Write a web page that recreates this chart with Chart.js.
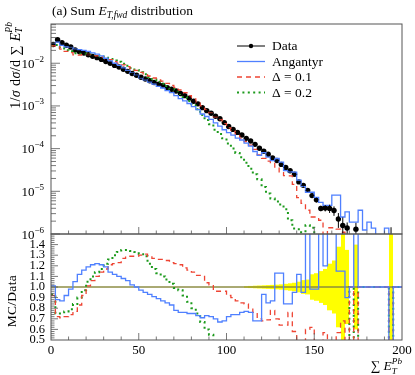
<!DOCTYPE html>
<html>
<head>
<meta charset="utf-8">
<script src="https://cdn.jsdelivr.net/npm/chart.js@4.4.0/dist/chart.umd.min.js"></script>
<style>
  body { margin: 0; background: #fff; }
  #wrap { position: relative; width: 415px; height: 375px; font-family: 'Liberation Serif', 'DejaVu Serif', serif; color: #000; }
  canvas { position: absolute; left: 0; top: 0; }
  .lbl { position: absolute; white-space: nowrap; line-height: 1; }
  .vert { writing-mode: vertical-rl; transform: rotate(180deg); }
  .sub { font-size: 70%; vertical-align: -0.3em; }
  .ss { display: inline-block; font-size: 68%; line-height: 1.05; vertical-align: -0.35em; font-style: italic; }
  .ss span { display: block; }
</style>
</head>
<body>
<div id="wrap">
  <canvas id="chart" width="415" height="375"></canvas>
  <div class="lbl" style="left:52px; top:4px; font-size:13.5px">(a) Sum <i>E</i><span class="sub"><i>T,fwd</i></span> distribution</div>
  <div class="lbl vert" style="left:4px; top:21px; font-size:14px; letter-spacing:0.4px">1/<i>σ</i> d<i>σ</i>/d ∑ <i>E</i><span class="ss"><span>Pb</span><span>T</span></span></div>
  <div style="position:absolute; left:5px; top:250px; height:102px; display:flex; align-items:center">
    <div class="vert" style="font-size:13.5px; line-height:1; white-space:nowrap; letter-spacing:0.3px">MC/Data</div>
  </div>
  <div class="lbl" style="right:13px; top:357px; font-size:13.5px">∑ <i>E</i><span class="ss"><span>Pb</span><span>T</span></span></div>
</div>
<script>
// bin edges of the histogram (GeV)
const binEdges = [0, 2.5, 5, 7.5, 10, 12.5, 15, 17.5, 20, 22.5, 25, 27.5, 30, 32.5, 35, 37.5, 40, 42.5, 45, 47.5,
  50, 52.5, 55, 57.5, 60, 62.5, 65, 67.5, 70, 72.5, 75, 77.5, 80, 82.5, 85, 87.5, 90, 92.5, 95, 97.5,
  100, 102.5, 105, 107.5, 110, 112.5, 115, 117.5, 120, 122.5, 125, 127.5, 130, 132.5, 135, 137.5, 140, 142.5, 145, 147.5,
  150, 152.5, 155, 157.5, 160, 162.5, 165, 167.5, 170, 172.5, 175, 177.5, 180, 182.5, 185, 187.5, 190, 192.5, 195, 197.5, 200];

// measured distribution
const dataVals = [2.75e-2, 3.55e-2, 3.02e-2, 2.63e-2, 2.40e-2, 2.04e-2, 1.86e-2, 1.74e-2, 1.58e-2, 1.45e-2,
  1.35e-2, 1.23e-2, 1.10e-2, 1.00e-2, 8.91e-3, 8.13e-3, 7.24e-3, 6.46e-3, 5.75e-3, 5.25e-3,
  4.68e-3, 4.27e-3, 3.89e-3, 3.55e-3, 3.24e-3, 3.02e-3, 2.69e-3, 2.45e-3, 2.24e-3, 1.95e-3,
  1.74e-3, 1.51e-3, 1.29e-3, 1.12e-3, 9.12e-4, 7.76e-4, 6.76e-4, 5.75e-4, 5.01e-4, 4.07e-4,
  3.31e-4, 2.82e-4, 2.40e-4, 2.09e-4, 1.74e-4, 1.51e-4, 1.26e-4, 1.02e-4, 8.71e-5, 7.41e-5,
  6.03e-5, 5.25e-5, 4.27e-5, 3.63e-5, 3.02e-5, 2.51e-5, 1.66e-5, 1.38e-5, 1.05e-5, 7.94e-6,
  6.31e-6, 3.98e-6, 4.07e-6, 3.98e-6, 3.55e-6, 2.24e-6, 1.58e-6, 1.38e-6, null, 1.30e-6,
  null, null, null, null, null, null, null, 8.0e-7, null, null];
// relative data uncertainty (yellow band)
const dataErr = [0.004, 0.004, 0.004, 0.004, 0.004, 0.004, 0.004, 0.004, 0.004, 0.004,
  0.004, 0.004, 0.004, 0.004, 0.004, 0.004, 0.004, 0.004, 0.004, 0.004,
  0.004, 0.004, 0.004, 0.004, 0.004, 0.004, 0.004, 0.004, 0.004, 0.004,
  0.004, 0.004, 0.004, 0.004, 0.004, 0.004, 0.004, 0.004, 0.004, 0.004,
  0.004, 0.004, 0.004, 0.004, 0.008, 0.01, 0.012, 0.014, 0.016, 0.018,
  0.02, 0.022, 0.025, 0.03, 0.035, 0.04, 0.05, 0.065, 0.07, 0.12,
  0.13, 0.15, 0.17, 0.22, 0.25, 0.38, 0.55, 0.35, 0, 0.4,
  0, 0, 0, 0, 0, 0, 0, 0.8, 0, 0];

// Angantyr
const angVals = [2.78e-2, 3.12e-2, 2.63e-2, 2.42e-2, 2.35e-2, 2.14e-2, 2.08e-2, 2.01e-2, 1.89e-2, 1.75e-2,
  1.64e-2, 1.49e-2, 1.31e-2, 1.14e-2, 9.98e-3, 8.93e-3, 7.82e-3, 6.84e-3, 5.87e-3, 5.25e-3,
  4.54e-3, 4.06e-3, 3.61e-3, 3.23e-3, 2.88e-3, 2.63e-3, 2.29e-3, 2.04e-3, 1.75e-3, 1.48e-3,
  1.32e-3, 1.14e-3, 9.66e-4, 8.18e-4, 6.47e-4, 5.66e-4, 4.86e-4, 4.03e-4, 3.36e-4, 2.77e-4,
  2.38e-4, 2.08e-4, 1.77e-4, 1.59e-4, 1.34e-4, 1.15e-4, 8.57e-5, 6.97e-5, 8.09e-5, 6.30e-5,
  5.25e-5, 5.87e-5, 4.82e-5, 3.05e-5, 2.87e-5, 2.81e-5, 1.82e-5, 1.31e-5, 9.5e-6, 9.5e-6,
  7.2e-6, 5.5e-6, 4.7e-6, 4.7e-6, 8.1e-6, 8.1e-6, 2.5e-6, 3.3e-6, 1.9e-6, 1.9e-6,
  3.6e-6, 1.24e-6, 1.9e-6, 1.38e-6, 0, 0, 1.38e-6, 0, 0, 0];
const angRatio = [1.01, 0.88, 0.87, 0.92, 0.98, 1.05, 1.12, 1.16, 1.19, 1.21,
  1.22, 1.21, 1.19, 1.14, 1.12, 1.10, 1.08, 1.06, 1.02, 1.00,
  0.97, 0.95, 0.93, 0.91, 0.89, 0.87, 0.85, 0.83, 0.78, 0.76,
  0.76, 0.75, 0.75, 0.73, 0.71, 0.73, 0.72, 0.70, 0.67, 0.68,
  0.72, 0.74, 0.74, 0.76, 0.77, 0.76, 0.68, 0.68, 0.93, 0.85,
  0.87, 1.13, 1.13, 0.84, 0.84, 0.95, 1.12, 0.95, 1.60, 0.98,
  0.98, 1.60, 1.20, 1.60, 1.60, 1.15, 1.15, 0.90, 1.00, 1.60,
  1.00, 1.00, 1.00, 1.00, 1.00, 1.00, 1.00, 0, 1.00, 1.00];

// Delta = 0.1
const d01Vals = [2.54e-2, 2.55e-2, 2.14e-2, 1.89e-2, 1.77e-2, 1.57e-2, 1.55e-2, 1.60e-2, 1.60e-2, 1.53e-2,
  1.48e-2, 1.40e-2, 1.28e-2, 1.21e-2, 1.09e-2, 1.00e-2, 9.20e-3, 8.34e-3, 7.43e-3, 6.78e-3,
  6.08e-3, 5.58e-3, 5.02e-3, 4.51e-3, 4.07e-3, 3.80e-3, 3.37e-3, 3.02e-3, 2.73e-3, 2.36e-3,
  2.05e-3, 1.75e-3, 1.47e-3, 1.24e-3, 1.00e-3, 8.07e-4, 6.90e-4, 5.52e-4, 4.81e-4, 3.91e-4,
  3.05e-4, 2.54e-4, 2.09e-4, 1.77e-4, 1.46e-4, 1.21e-4, 9.57e-5, 7.16e-5, 5.93e-5, 5.12e-5,
  4.70e-5, 3.67e-5, 2.73e-5, 2.32e-5, 2.30e-5, 1.46e-5, 7.1e-6, 5.2e-6, 3.6e-6, 2.5e-6,
  2.5e-6, 2.1e-6, 0, 1.4e-6, 1.4e-6, 1.3e-6, 1.1e-6, 0, 0, 0,
  0, 0, 0, 0, 0, 0, 0, 0, 0, 0];
const d01Ratio = [0.92, 0.72, 0.71, 0.72, 0.74, 0.77, 0.83, 0.92, 1.01, 1.06,
  1.10, 1.14, 1.17, 1.21, 1.22, 1.23, 1.27, 1.29, 1.29, 1.29,
  1.30, 1.31, 1.29, 1.27, 1.26, 1.26, 1.25, 1.23, 1.22, 1.21,
  1.18, 1.16, 1.14, 1.11, 1.10, 1.04, 1.02, 0.96, 0.96, 0.96,
  0.92, 0.90, 0.87, 0.85, 0.84, 0.80, 0.76, 0.70, 0.68, 0.69,
  0.78, 0.70, 0.64, 0.64, 0.76, 0.58, 0.43, 0.38, 0.60, 0.62,
  0.40, 0.40, 0.57, 0.35, 0.35, 0.57, 0.68, 0, 1.00, 0,
  1.00, 1.00, 1.00, 1.00, 1.00, 1.00, 1.00, 0, 1.00, 1.00];

// Delta = 0.2
const d02Vals = [2.56e-2, 2.66e-2, 2.26e-2, 2.02e-2, 1.90e-2, 1.71e-2, 1.67e-2, 1.69e-2, 1.66e-2, 1.59e-2,
  1.54e-2, 1.44e-2, 1.34e-2, 1.26e-2, 1.16e-2, 1.08e-2, 9.77e-3, 8.71e-3, 7.71e-3, 6.98e-3,
  6.12e-3, 5.51e-3, 4.74e-3, 4.15e-3, 3.66e-3, 3.32e-3, 2.88e-3, 2.53e-3, 2.22e-3, 1.89e-3,
  1.60e-3, 1.30e-3, 1.03e-3, 8.41e-4, 6.10e-4, 4.66e-4, 3.72e-4, 2.76e-4, 2.19e-4, 1.74e-4,
  1.32e-4, 1.00e-4, 7.94e-5, 6.31e-5, 4.68e-5, 3.39e-5, 2.51e-5, 1.91e-5, 1.26e-5, 8.9e-6,
  6.8e-6, 5.8e-6, 4.9e-6, 3.8e-6, 2.1e-6, 1.35e-6, 1.3e-6, 1.1e-6, 1.6e-6, 1.4e-6,
  0, 0, 0, 0, 0, 0, 0, 0, 0, 0,
  0, 0, 0, 0, 0, 0, 0, 0, 0, 0];
const d02Ratio = [0.93, 0.75, 0.75, 0.77, 0.79, 0.84, 0.90, 0.97, 1.05, 1.10,
  1.14, 1.17, 1.22, 1.26, 1.30, 1.33, 1.35, 1.35, 1.34, 1.33,
  1.31, 1.29, 1.22, 1.17, 1.13, 1.10, 1.07, 1.03, 0.99, 0.97,
  0.92, 0.86, 0.80, 0.75, 0.67, 0.60, 0.55, 0.48, 0.44, 0.43,
  0.40, 0.35, 0.33, 0.30, 0.27, 0.22, 0.20, 0.19, 0.14, 0.12,
  0.11, 0.11, 0.11, 0.10, 0.07, 0.05, 0.07, 0.08, 0.15, 0.18,
  0, 0, 0, 0, 0, 0, 0, 0, 1.00, 0,
  1.00, 1.00, 1.00, 1.00, 1.00, 1.00, 1.00, 0, 1.00, 1.00];

const xTicks = [0, 50, 100, 150, 200];
const legendLabels = ['Data', 'Angantyr', 'Δ = 0.1', 'Δ = 0.2'];

const colData = '#000000';
const colAng = '#4f80ff';
const colD01 = '#ee4433';
const colD02 = '#1c9a1c';
const serif = "'Liberation Serif', 'DejaVu Serif', serif";

// histogram points for a stepped line (empty bins are sent below the axis)
const histPoints = (vals, floor) => binEdges.map((x, i) => {
  const v = vals[Math.min(i, vals.length - 1)];
  return { x, y: v > 0 ? v : floor };
});
const dataPoints = dataVals.map((v, i) => ({ x: (binEdges[i] + binEdges[i + 1]) / 2, y: v }));

const stepSet = (vals, axis, color, width, dash, floor) => ({
  data: histPoints(vals, floor),
  yAxisID: axis,
  borderColor: color,
  borderWidth: width,
  borderDash: dash,
  borderCapStyle: 'butt',
  pointRadius: 0,
  stepped: 'before',
  fill: false
});

// keep every dataset inside its own panel
const clipPlugin = {
  id: 'panelClip',
  beforeDatasetDraw(chart, args) {
    const s = args.meta.yScale, a = chart.chartArea, ctx = chart.ctx;
    ctx.save();
    ctx.beginPath();
    ctx.rect(a.left, s.top, a.right - a.left, s.bottom - s.top);
    ctx.clip();
  },
  afterDatasetDraw(chart) {
    chart.ctx.restore();
  }
};

const decorPlugin = {
  id: 'decor',
  beforeDatasetsDraw(chart) {
    const { ctx, chartArea: a } = chart;
    const xs = chart.scales.x, rs = chart.scales.yRatio;
    ctx.save();
    ctx.beginPath();
    ctx.rect(a.left, rs.top, a.right - a.left, rs.bottom - rs.top);
    ctx.clip();
    // data uncertainty band
    ctx.fillStyle = '#ffff00';
    dataVals.forEach((v, i) => {
      if (v === null || !(dataErr[i] > 0)) return;
      const x0 = Math.round(xs.getPixelForValue(binEdges[i]));
      const x1 = Math.round(xs.getPixelForValue(binEdges[i + 1]));
      const yTop = rs.getPixelForValue(1 + dataErr[i]);
      const yBot = rs.getPixelForValue(1 - dataErr[i]);
      ctx.fillRect(x0, yTop, x1 - x0, yBot - yTop);
    });
    const y1 = rs.getPixelForValue(1);
    ctx.strokeStyle = '#555';
    ctx.lineWidth = 1;
    ctx.beginPath();
    ctx.moveTo(a.left, y1);
    ctx.lineTo(a.right, y1);
    ctx.stroke();
    ctx.restore();
  },
  afterDatasetsDraw(chart) {
    const { ctx, chartArea: a } = chart;
    const xs = chart.scales.x, ys = chart.scales.y, rs = chart.scales.yRatio;

    // data error bars
    ctx.save();
    ctx.beginPath();
    ctx.rect(a.left, ys.top, a.right - a.left, ys.bottom - ys.top);
    ctx.clip();
    ctx.strokeStyle = colData;
    ctx.lineWidth = 1;
    dataVals.forEach((v, i) => {
      if (v === null) return;
      const xc = xs.getPixelForValue((binEdges[i] + binEdges[i + 1]) / 2);
      const yc = ys.getPixelForValue(v);
      ctx.beginPath();
      ctx.moveTo(xs.getPixelForValue(binEdges[i]), yc);
      ctx.lineTo(xs.getPixelForValue(binEdges[i + 1]), yc);
      ctx.moveTo(xc, ys.getPixelForValue(v * (1 + dataErr[i])));
      ctx.lineTo(xc, ys.getPixelForValue(Math.max(v * (1 - dataErr[i]), 1e-9)));
      ctx.stroke();
    });
    ctx.restore();

    // frames
    ctx.save();
    ctx.strokeStyle = '#555';
    ctx.lineWidth = 1;
    [ys, rs].forEach(s => ctx.strokeRect(a.left, s.top, a.right - a.left, s.bottom - s.top));

    // x ticks on both panels
    ctx.lineWidth = 0.8;
    ctx.beginPath();
    [ys, rs].forEach(s => {
      for (let v = 10; v < 200; v += 10) {
        const x = xs.getPixelForValue(v);
        const len = v % 50 === 0 ? 7 : 3.5;
        ctx.moveTo(x, s.bottom);
        ctx.lineTo(x, s.bottom - len);
      }
    });
    // log y ticks
    for (let d = -6; d <= -2; d++) {
      for (let k = 1; k <= 9; k++) {
        const v = k * Math.pow(10, d);
        if (v < ys.min * 0.999 || v > ys.max) continue;
        const y = ys.getPixelForValue(v);
        ctx.moveTo(a.left, y);
        ctx.lineTo(a.left + (k === 1 ? 9 : 5), y);
      }
    }
    // ratio y ticks
    for (let k = 1; k < 50; k++) {
      const y = rs.getPixelForValue(0.5 + k * 0.02);
      ctx.moveTo(a.left, y);
      ctx.lineTo(a.left + (k % 5 === 0 ? 7 : 3.5), y);
    }
    ctx.stroke();

    // log y labels 10^n
    ctx.fillStyle = '#000';
    ctx.textAlign = 'left';
    ctx.textBaseline = 'alphabetic';
    for (let d = -6; d <= -2; d++) {
      const y = ys.getPixelForValue(Math.pow(10, d));
      const sup = '−' + (-d);
      ctx.font = '9px ' + serif;
      const supW = ctx.measureText(sup).width;
      ctx.font = '13px ' + serif;
      const baseW = ctx.measureText('10').width;
      const xr = a.left - 7;
      ctx.fillText('10', xr - supW - baseW, y + 4.5);
      ctx.font = '9px ' + serif;
      ctx.fillText(sup, xr - supW, y - 1.5);
    }

    // legend
    const lx0 = 237, lx1 = 265, ltx = 272;
    const rowsY = [46, 61.5, 77, 92.5];
    const styles = [
      { color: colData, width: 1, dash: [] },
      { color: colAng, width: 1.3, dash: [] },
      { color: colD01, width: 1.3, dash: [5, 4] },
      { color: colD02, width: 2, dash: [2, 3.4] }
    ];
    legendLabels.forEach((label, i) => {
      const y = rowsY[i], st = styles[i];
      ctx.strokeStyle = st.color;
      ctx.lineWidth = st.width;
      ctx.setLineDash(st.dash);
      ctx.beginPath();
      ctx.moveTo(lx0, y);
      ctx.lineTo(lx1, y);
      ctx.stroke();
      ctx.setLineDash([]);
      if (i === 0) {
        ctx.fillStyle = colData;
        ctx.beginPath();
        ctx.arc((lx0 + lx1) / 2, y, 2.2, 0, Math.PI * 2);
        ctx.fill();
      }
      ctx.fillStyle = '#000';
      ctx.font = '13.5px ' + serif;
      ctx.textBaseline = 'middle';
      ctx.fillText(label, ltx, y + 0.5);
    });
    ctx.restore();
  }
};

new Chart(document.getElementById('chart'), {
  type: 'line',
  data: {
    datasets: [
      stepSet(angVals, 'y', colAng, 1.3, [], 1e-9),
      stepSet(d01Vals, 'y', colD01, 1.3, [5, 4], 1e-9),
      stepSet(d02Vals, 'y', colD02, 2, [2, 3.4], 1e-9),
      {
        data: dataPoints,
        yAxisID: 'y',
        showLine: false,
        pointRadius: 2.7,
        pointBackgroundColor: colData,
        pointBorderWidth: 0
      },
      stepSet(angRatio, 'yRatio', colAng, 1.3, [], -1),
      stepSet(d01Ratio, 'yRatio', colD01, 1.3, [5, 4], -1),
      stepSet(d02Ratio, 'yRatio', colD02, 2, [2, 3.4], -1)
    ]
  },
  options: {
    responsive: false,
    animation: false,
    devicePixelRatio: 1,
    layout: { padding: { left: 0, right: 13, top: 24, bottom: 0 } },
    plugins: { legend: { display: false }, tooltip: { enabled: false } },
    scales: {
      x: {
        type: 'linear', min: 0, max: 200,
        grid: { display: false, drawTicks: false, tickLength: 0 }, border: { display: false },
        afterBuildTicks: s => { s.ticks = xTicks.map(v => ({ value: v })); },
        ticks: { font: { family: serif, size: 13 }, color: '#000', padding: 3, maxRotation: 0, autoSkip: false },
        afterFit: s => { s.height = 35; }
      },
      y: {
        type: 'logarithmic', axis: 'y', position: 'left', stack: 'panels', stackWeight: 210, weight: 1,
        min: 1e-6, max: 0.083,
        grid: { display: false, drawTicks: false, tickLength: 0 }, border: { display: false },
        ticks: { display: false },
        afterFit: s => { s.width = 51; }
      },
      yRatio: {
        type: 'linear', axis: 'y', position: 'left', stack: 'panels', stackWeight: 106, weight: 0,
        min: 0.5, max: 1.5,
        grid: { display: false, drawTicks: false, tickLength: 0 }, border: { display: false },
        ticks: {
          stepSize: 0.1, padding: 6, color: '#000', autoSkip: false,
          font: { family: serif, size: 12.5 },
          callback: v => (v > 1.45 ? '' : v.toFixed(1))
        },
        afterFit: s => { s.width = 51; }
      }
    }
  },
  plugins: [clipPlugin, decorPlugin]
});
</script>
</body>
</html>
